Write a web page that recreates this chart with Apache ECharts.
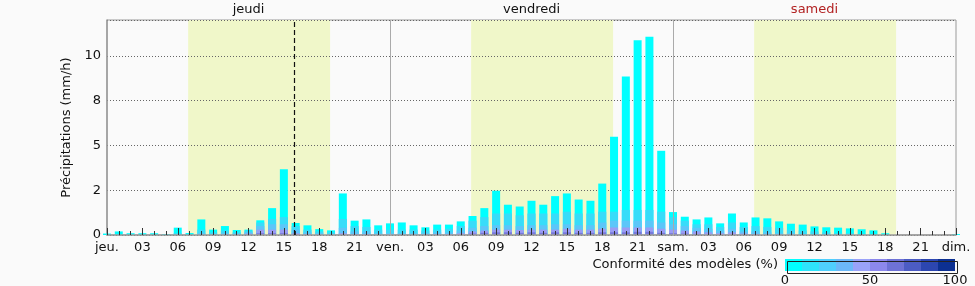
<!DOCTYPE html>
<html>
<head>
<meta charset="utf-8">
<script src="https://cdn.jsdelivr.net/npm/echarts@6/dist/echarts.min.js"></script>
<style>
html,body{margin:0;padding:0;background:#fafafa;}
#c{width:975px;height:286px;}
</style>
</head>
<body>
<div id="c"></div>
<script>
// hourly precipitation (mm/h), index = hours since Thursday 00h (0..72)
var precipTotal = [0.08,0.2,0.1,0.1,0.1,0.05,0.41,0.11,0.87,0.3,0.5,0.28,0.3,0.82,1.5,3.67,0.67,0.54,0.33,0.26,2.32,0.8,0.87,0.54,
  0.65,0.7,0.54,0.43,0.58,0.58,0.76,1.06,1.5,2.47,1.69,1.59,1.91,1.69,2.17,2.32,1.98,1.91,2.87,5.48,8.85,10.87,11.07,4.7,
  1.28,1.02,0.87,0.98,0.65,1.2,0.7,0.98,0.93,0.76,0.63,0.58,0.48,0.43,0.41,0.37,0.32,0.26,0.1,0,0,0,0,0,0.05];
// heights of model-agreement bands (cumulative from 0), increasing agreement
var band10 = [0,0,0,0,0,0,0.1,0,0.3,0.15,0.25,0.15,0.25,0.7,0.9,1.0,0.5,0.3,0.2,0.15,0.9,0.5,0.45,0.3,
  0.3,0.3,0.3,0.25,0.3,0.35,0.5,0.8,1.0,1.2,1.2,1.1,1.2,1.2,1.2,1.3,1.2,1.2,1.3,1.3,1.4,1.4,1.4,1.3,
  1.0,0.8,0.6,0.6,0.45,0.7,0.45,0.5,0.45,0.4,0.3,0.25,0.2,0.15,0.1,0.1,0.05,0,0,0,0,0,0,0,0];
var band30 = [0,0,0,0,0,0,0,0,0.1,0.05,0.1,0.08,0.15,0.5,0.6,0.6,0.3,0.15,0.1,0.05,0.4,0.2,0.2,0.1,
  0.1,0.1,0.1,0.1,0.15,0.15,0.25,0.4,0.5,0.55,0.55,0.5,0.55,0.55,0.6,0.6,0.55,0.55,0.7,0.8,0.8,0.8,0.8,0.7,
  0.6,0.5,0.4,0.35,0.25,0.35,0.2,0.2,0.15,0.1,0.1,0.05,0,0,0,0,0,0,0,0,0,0,0,0,0];
var band50 = [0,0,0,0,0,0,0,0,0,0,0,0,0.08,0.3,0.3,0.3,0.1,0.05,0,0,0.1,0.05,0.05,0,
  0,0,0,0,0.05,0.05,0.1,0.2,0.25,0.3,0.3,0.28,0.3,0.3,0.3,0.35,0.3,0.3,0.35,0.42,0.42,0.42,0.42,0.35,
  0.3,0.25,0.2,0.15,0.1,0.15,0.08,0.05,0,0,0,0,0,0,0,0,0,0,0,0,0,0,0,0,0];
var band70 = [0,0,0,0,0,0,0,0,0,0,0,0,0,0.1,0.1,0.1,0,0,0,0,0,0,0,0,
  0,0,0,0,0,0,0,0.08,0.12,0.15,0.15,0.12,0.15,0.12,0.15,0.15,0.12,0.12,0.15,0.15,0.15,0.18,0.18,0.12,
  0.1,0.08,0.05,0,0,0,0,0,0,0,0,0,0,0,0,0,0,0,0,0,0,0,0,0,0];

var xTickLabels = ['jeu.','03','06','09','12','15','18','21','ven.','03','06','09','12','15','18','21',
  'sam.','03','06','09','12','15','18','21','dim.'];
var dayNames = ['jeudi','vendredi','samedi'];
var yTickLabels = ['0','2','5','8','10'];
var daylight = [[6.88,18.92],[30.88,42.92],[54.88,66.92]];
var dayBoundaries = [24,48];
var nowHour = 15.85;
var legendTitle = 'Conformité des modèles (%)';
var legendTicks = ['0','50','100'];
var agreementColors = ['#00ffff','#2ee4fb','#4fcffd','#6cb8f8','#9aa2f8','#8c88ec','#6e72d6','#4c5cc4','#2c46b0','#0c3092'];

var FONT = 'DejaVu Sans';
function toPairs(arr){ return arr.map(function(v,i){ return [i,v]; }); }

function barSeries(name, arr, color){
  return {
    name:name, type:'bar', xAxisIndex:0, yAxisIndex:0, barWidth:8, barGap:'-100%', z:3,
    data: toPairs(arr), itemStyle:{color:color}, silent:true, animation:false
  };
}

var legendGraphics = [];
var lx = 785, lw = 17, ly = 259, lh = 12;
agreementColors.forEach(function(c,i){
  legendGraphics.push({type:'rect', left:lx+i*lw, top:ly, shape:{width:lw, height:lh}, style:{fill:c}, silent:true});
});
legendGraphics.push({type:'rect', left:lx, top:ly, shape:{width:lw*10, height:lh}, style:{fill:'none', stroke:'#222', lineWidth:1}, silent:true});
legendGraphics.push({type:'text', right:975-778, top:258, style:{text:legendTitle, font:'13px "'+FONT+'"', fill:'#111', textAlign:'right'}});
legendTicks.forEach(function(t,i){
  legendGraphics.push({type:'text', x:lx+i*lw*5, y:274, style:{text:t, font:'13px "'+FONT+'"', fill:'#111', textAlign:'center'}});
});

var chart = echarts.init(document.getElementById('c'), null, {renderer:'canvas'});
chart.setOption({
  animation:false,
  backgroundColor:'#fafafa',
  textStyle:{fontFamily:FONT},
  grid:{left:107, right:19, top:20, bottom:51, show:true, borderColor:'#9a9a9a', borderWidth:1, backgroundColor:'#fafafa', z:0},
  xAxis:[{
    type:'value', min:0, max:72, interval:3, position:'bottom', z:4,
    axisLine:{show:true, onZero:false, lineStyle:{color:'#9a9a9a', width:1.5}},
    axisTick:{show:true, inside:true, length:7, lineStyle:{color:'#333'}},
    minorTick:{show:true, splitNumber:3, length:4, lineStyle:{color:'#333'}},
    splitLine:{show:false},
    axisLabel:{color:'#111', fontSize:13, fontFamily:FONT, margin:6, showMaxLabel:true, showMinLabel:true,
      formatter:function(v){ var i=Math.round(v/3); return xTickLabels[i]||''; }}
  },{
    type:'value', min:0, max:72, interval:12, position:'top',
    axisLine:{show:false}, axisTick:{show:false}, splitLine:{show:false},
    axisLabel:{fontSize:13, fontFamily:FONT, margin:4,
      color:function(v){ return Math.round(v)===60 ? '#b22222' : '#111'; },
      formatter:function(v){ var k=(v-12)/24; return (k>=0 && k%1===0) ? (dayNames[k]||'') : ''; }}
  }],
  yAxis:{
    type:'value', min:0, max:12, interval:2.5, z:2,
    name:'Précipitations (mm/h)', nameLocation:'middle', nameGap:27,
    nameTextStyle:{fontSize:13, color:'#111', fontFamily:FONT},
    axisLine:{show:true, lineStyle:{color:'#9a9a9a', width:1.5}},
    axisTick:{show:false},
    splitLine:{show:true, lineStyle:{color:'#666', type:[1,2], width:1}},
    axisLabel:{color:'#111', fontSize:13, fontFamily:FONT, margin:6, showMaxLabel:false,
      formatter:function(v){ var k=v/2.5; return (k%1===0) ? (yTickLabels[k]||'') : ''; }}
  },
  graphic: legendGraphics,
  series:[
    {
      type:'line', data:[], z:1, silent:true,
      markArea:{silent:true, itemStyle:{color:'#f0f7c9'},
        data: daylight.map(function(d){ return [{xAxis:d[0]},{xAxis:d[1]}]; })},
      markLine:{silent:true, symbol:'none', label:{show:false},
        lineStyle:{color:'#aaaaaa', type:'solid', width:1},
        data: dayBoundaries.map(function(d){ return {xAxis:d}; })}
    },
    barSeries('total', precipTotal, '#00ffff'),
    barSeries('b10', band10, '#38dcf9'),
    barSeries('b30', band30, '#5cc6f9'),
    barSeries('b50', band50, '#9a9cf4'),
    barSeries('b70', band70, '#7878dc'),
    {
      type:'line', data:[], z:6, silent:true,
      markLine:{silent:true, symbol:'none', label:{show:false},
        lineStyle:{color:'#111', type:[5,3], width:1.2},
        data:[{xAxis:nowHour}]}
    }
  ]
});
</script>
</body>
</html>
